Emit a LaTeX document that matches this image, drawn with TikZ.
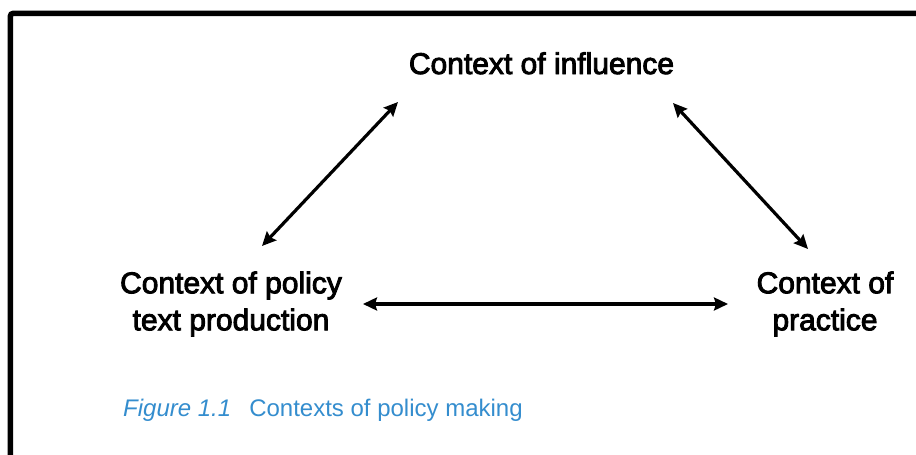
\documentclass[tikz,border=0pt]{standalone}
\usepackage{fontspec}
\setmainfont{Liberation Sans}
\newfontfamily\labelfont{Liberation Sans}[UprightFeatures={FakeBold=3}]
\usetikzlibrary{arrows.meta}
\definecolor{captionblue}{RGB}{52,141,206}
\begin{document}
\begin{tikzpicture}[x=1pt,y=-1pt,
  ctx/.style={font=\labelfont\fontsize{30}{37}\selectfont,align=center,inner sep=0pt},
  link/.style={{Stealth[length=14pt,width=13pt,inset=2pt]}-{Stealth[length=14pt,width=13pt,inset=2pt]},line width=3.2pt}]
\clip (0,0) rectangle (916,455);
\draw[line width=5.5pt,rounded corners=3pt] (10.3,470) -- (10.3,13.3) -- (930,13.3);

\node[ctx,anchor=base] (influence) at (541.5,74) {Context of influence};
\node[ctx] (policy) at (231,304) {Context of policy\\text production};
\node[ctx] (practice) at (825,304) {Context of\\practice};

\draw[link] ([shift={(31,-58)}]policy.center) -- ([shift={(-143.5,28)}]influence.base);
\draw[link] ([shift={(131.5,29)}]influence.base) -- ([shift={(-17,-55)}]practice.center);
\draw[link] ([shift={(132,0)}]policy.center) -- ([shift={(-97,0)}]practice.center);

\node[font=\fontsize{24}{28}\selectfont,text=captionblue,anchor=base west,inner sep=0pt] (caption) at (123,416) {\textit{Figure 1.1}\hspace{18pt}Contexts of policy making};
\end{tikzpicture}
\end{document}
